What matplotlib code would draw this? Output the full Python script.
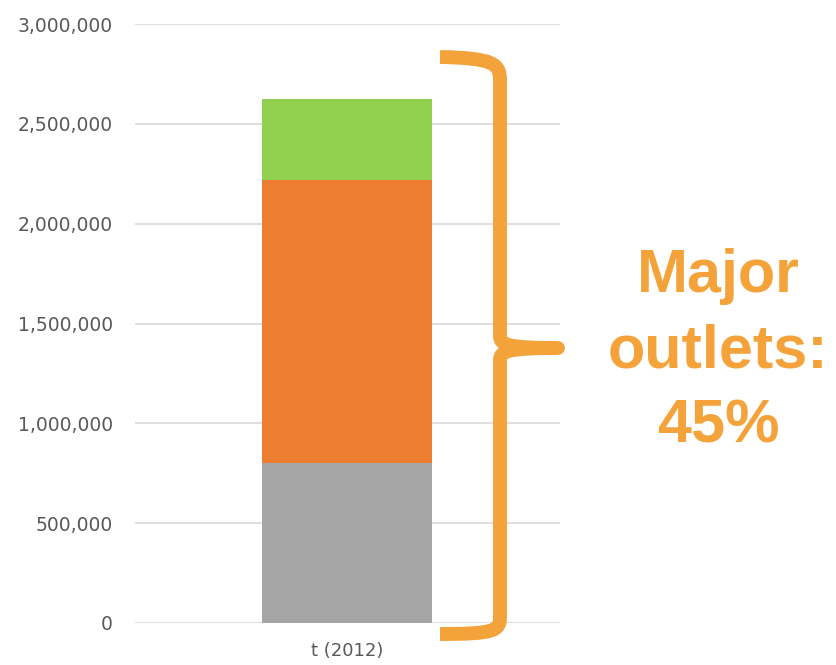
import matplotlib.pyplot as plt
from matplotlib.path import Path
from matplotlib.patches import PathPatch
from matplotlib.ticker import FuncFormatter

# data
categories = ['t (2012)']
gray_vals = [800000]
orange_vals = [1420000]
green_vals = [405000]
yticks = [0, 500000, 1000000, 1500000, 2000000, 2500000, 3000000]

W, H = 837, 665
fig = plt.figure(figsize=(W / 100, H / 100), dpi=100)
ax = fig.add_axes([135 / W, 1 - 623 / H, 425 / W, 599 / H])

ax.bar(categories, gray_vals, width=0.4, color='#A5A5A5', zorder=2)
ax.bar(categories, orange_vals, width=0.4, bottom=gray_vals, color='#ED7D31', zorder=2)
bot2 = [g + o for g, o in zip(gray_vals, orange_vals)]
ax.bar(categories, green_vals, width=0.4, bottom=bot2, color='#92D050', zorder=2)

ax.set_xlim(-0.5, 0.5)
ax.set_ylim(0, 3000000)
ax.set_yticks(yticks)
ax.yaxis.set_major_formatter(FuncFormatter(lambda v, p: f'{int(v):,}'))
ax.grid(axis='y', color='#D9D9D9', lw=1.2, zorder=0)
for s in ax.spines.values():
    s.set_visible(False)
ax.tick_params(axis='y', length=0, pad=16, labelsize=13.5, labelcolor='#595959')
ax.tick_params(axis='x', length=0, pad=14, labelsize=13, labelcolor='#595959')

# brace (figure pixel coords, y from top)
orange = '#F4A23A'
def px(x, y):
    return (x / W, 1 - y / H)

verts = [px(440, 57), px(494, 58), px(500, 64), px(500, 80),
         px(500, 336),
         px(500, 345), px(508, 348), px(558, 348),
         px(508, 348), px(500, 351), px(500, 360),
         px(500, 617),
         px(500, 631), px(494, 634), px(440, 634)]
codes = [Path.MOVETO, Path.CURVE4, Path.CURVE4, Path.CURVE4,
         Path.LINETO,
         Path.CURVE4, Path.CURVE4, Path.CURVE4,
         Path.CURVE4, Path.CURVE4, Path.CURVE4,
         Path.LINETO,
         Path.CURVE4, Path.CURVE4, Path.CURVE4]
brace = PathPatch(Path(verts, codes), transform=fig.transFigure, fill=False,
                  edgecolor=orange, lw=10, capstyle='butt', joinstyle='round')
fig.patches.append(brace)

fig.text(718 / W, 1 - 352 / H, 'Major\noutlets:\n45%', ha='center', va='center',
         fontsize=44, fontweight='bold', color=orange, family='Liberation Sans',
         linespacing=1.42)

fig.savefig('out.png', dpi=100)
